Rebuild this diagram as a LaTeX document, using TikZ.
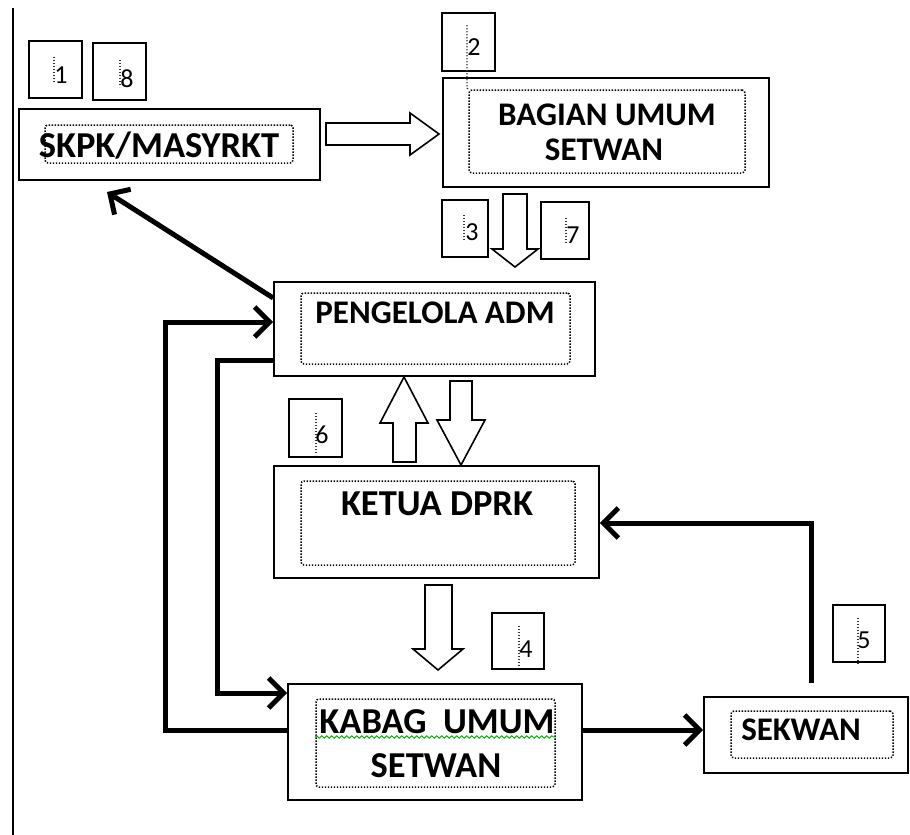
\documentclass[tikz,border=0pt]{standalone}
\usepackage{fontspec}
\setmainfont{Carlito}
\usetikzlibrary{arrows.meta,decorations.pathmorphing}
\tikzset{
  box/.style={draw, line width=1.6pt, inner sep=0pt},
  inbox/.style={draw, dash pattern=on 1.4pt off 1.6pt, line width=1.5pt, rounded corners=3pt, inner sep=0pt},
  numbox/.style={draw, line width=1.6pt, inner sep=0pt},
  lbl/.style={font=\fontsize{33}{38}\selectfont\bfseries, anchor=base, inner sep=0pt},
  lblbig/.style={font=\fontsize{36.5}{40}\selectfont\bfseries, anchor=base, inner sep=0pt},
  numtxt/.style={font=\fontsize{26}{30}\selectfont, anchor=base, inner sep=0pt},
  anchorline/.style={dash pattern=on 1.4pt off 1.6pt, line width=1.4pt, black!80},
  conn/.style={line width=5pt, -{Straight Barb[length=15pt,width=30pt,line width=5pt]}},
  hollow/.style={draw, line width=1.6pt, fill=white, line join=miter},
}
\begin{document}
\begin{tikzpicture}[x=1pt,y=-1pt]
\useasboundingbox (0,0) rectangle (910,835);
% left margin rule
\draw[line width=2pt] (13,8) -- (13,835);

% main boxes
\node[box, minimum width=301, minimum height=71] (skpk) at (169.5,144.5) {};
\node[inbox, minimum width=248, minimum height=38] (skpkin) at (169,144) {};
\node[box, minimum width=326, minimum height=109] (bag) at (606,132.5) {};
\node[inbox, minimum width=276, minimum height=83] (bagin) at (607,131.5) {};
\node[box, minimum width=321, minimum height=94] (pen) at (434.5,329) {};
\node[inbox, minimum width=269, minimum height=71] (penin) at (435.5,328.5) {};
\node[box, minimum width=325, minimum height=112] (ket) at (436.5,522) {};
\node[inbox, minimum width=274, minimum height=84] (ketin) at (438,523) {};
\node[box, minimum width=294, minimum height=116] (kab) at (435,742) {};
\node[inbox, minimum width=239, minimum height=88] (kabin) at (435.5,743) {};
\node[box, minimum width=204, minimum height=76] (sek) at (806,735) {};
\node[inbox, minimum width=162, minimum height=47] (sekin) at (812,734.5) {};

% labels
\node[lblbig] (tskpk) at (159,157) {SKPK/MASYRKT};
\node[lbl] (tbag1) at (607,125) {BAGIAN UMUM};
\node[lbl] (tbag2) at (604,160) {SETWAN};
\node[lbl] (tpen) at (435,323) {PENGELOLA ADM};
\node[lblbig] (tket) at (437,515) {KETUA DPRK};
\node[lblbig] (tkab1) at (437,733) {KABAG\ \ UMUM};
\node[lblbig] (tkab2) at (436,777) {SETWAN};
\node[lbl] (tsek) at (801,740) {SEKWAN};
\draw[green!65!black, line width=0.9pt, decorate,
      decoration={snake, amplitude=1.2pt, segment length=5pt}]
  (kabin.west |- 0,737) -- (kabin.east |- 0,737);

% number boxes
\node[numbox, minimum width=53, minimum height=57] (n1) at (55.5,69.5) {};
\node[numbox, minimum width=53, minimum height=57] (n8) at (119.5,71.5) {};
\node[numbox, minimum width=53, minimum height=58] (n2) at (468.5,42) {};
\node[numbox, minimum width=46, minimum height=57] (n3) at (465,228.5) {};
\node[numbox, minimum width=48, minimum height=57] (n7) at (565,230.5) {};
\node[numbox, minimum width=53, minimum height=58] (n6) at (315.5,428) {};
\node[numbox, minimum width=52, minimum height=56] (n4) at (518,641) {};
\node[numbox, minimum width=52, minimum height=57] (n5) at (859,633.5) {};

\draw[anchorline] (54,57) -- (54,83);
\draw[anchorline] (120,60) -- (120,87);
\draw[anchorline] (467,25) -- (467,88) -- (bagin.north west);
\draw[anchorline] (464,215) -- (464,240);
\draw[anchorline] (566,218) -- (566,243);
\draw[anchorline] (316,413) -- (316,455);
\draw[anchorline] (519,626) -- (519,668);
\draw[anchorline] (858,618) -- (858,665);

\node[numtxt] (t1) at (61,83) {1};
\node[numtxt] (t8) at (127,87) {8};
\node[numtxt] (t2) at (474,55) {2};
\node[numtxt] (t3) at (472,240) {3};
\node[numtxt] (t7) at (573,243) {7};
\node[numtxt] (t6) at (322,443) {6};
\node[numtxt] (t4) at (526,657) {4};
\node[numtxt] (t5) at (864,648) {5};

% hollow block arrows
\draw[hollow] (326,123) -- (410,123) -- (410,113) -- (439,134) -- (410,155) -- (410,145) -- (326,145) -- cycle;
\draw[hollow] (503,194) -- (527,194) -- (527,249) -- (538,249) -- (515,267) -- (492,249) -- (503,249) -- cycle;
\draw[hollow] (393,462) -- (393,423) -- (380,423) -- (404,377) -- (428,423) -- (416,423) -- (416,462) -- cycle;
\draw[hollow] (450,381) -- (472,381) -- (472,420) -- (485,420) -- (461,465) -- (437,420) -- (450,420) -- cycle;
\draw[hollow] (425,585) -- (452,585) -- (452,649) -- (463,649) -- (438,670) -- (413,649) -- (425,649) -- cycle;

% connectors
\coordinate (skpktip) at (107,192);
\coordinate (sekout) at (811,683);
\draw[conn] (pen.west |- 0,298) -- (skpktip);
\draw[conn] (kab.west |- 0,730) -| (165,322) -- (pen.west |- 0,322);
\draw[conn] (pen.west |- 0,360) -| (217,693) -- (kab.west |- 0,693);
\draw[conn] (kab.east |- 0,730) -- (sek.west |- 0,730);
\draw[conn] (sekout) |- (ket.east |- 0,523);
\end{tikzpicture}
\end{document}
